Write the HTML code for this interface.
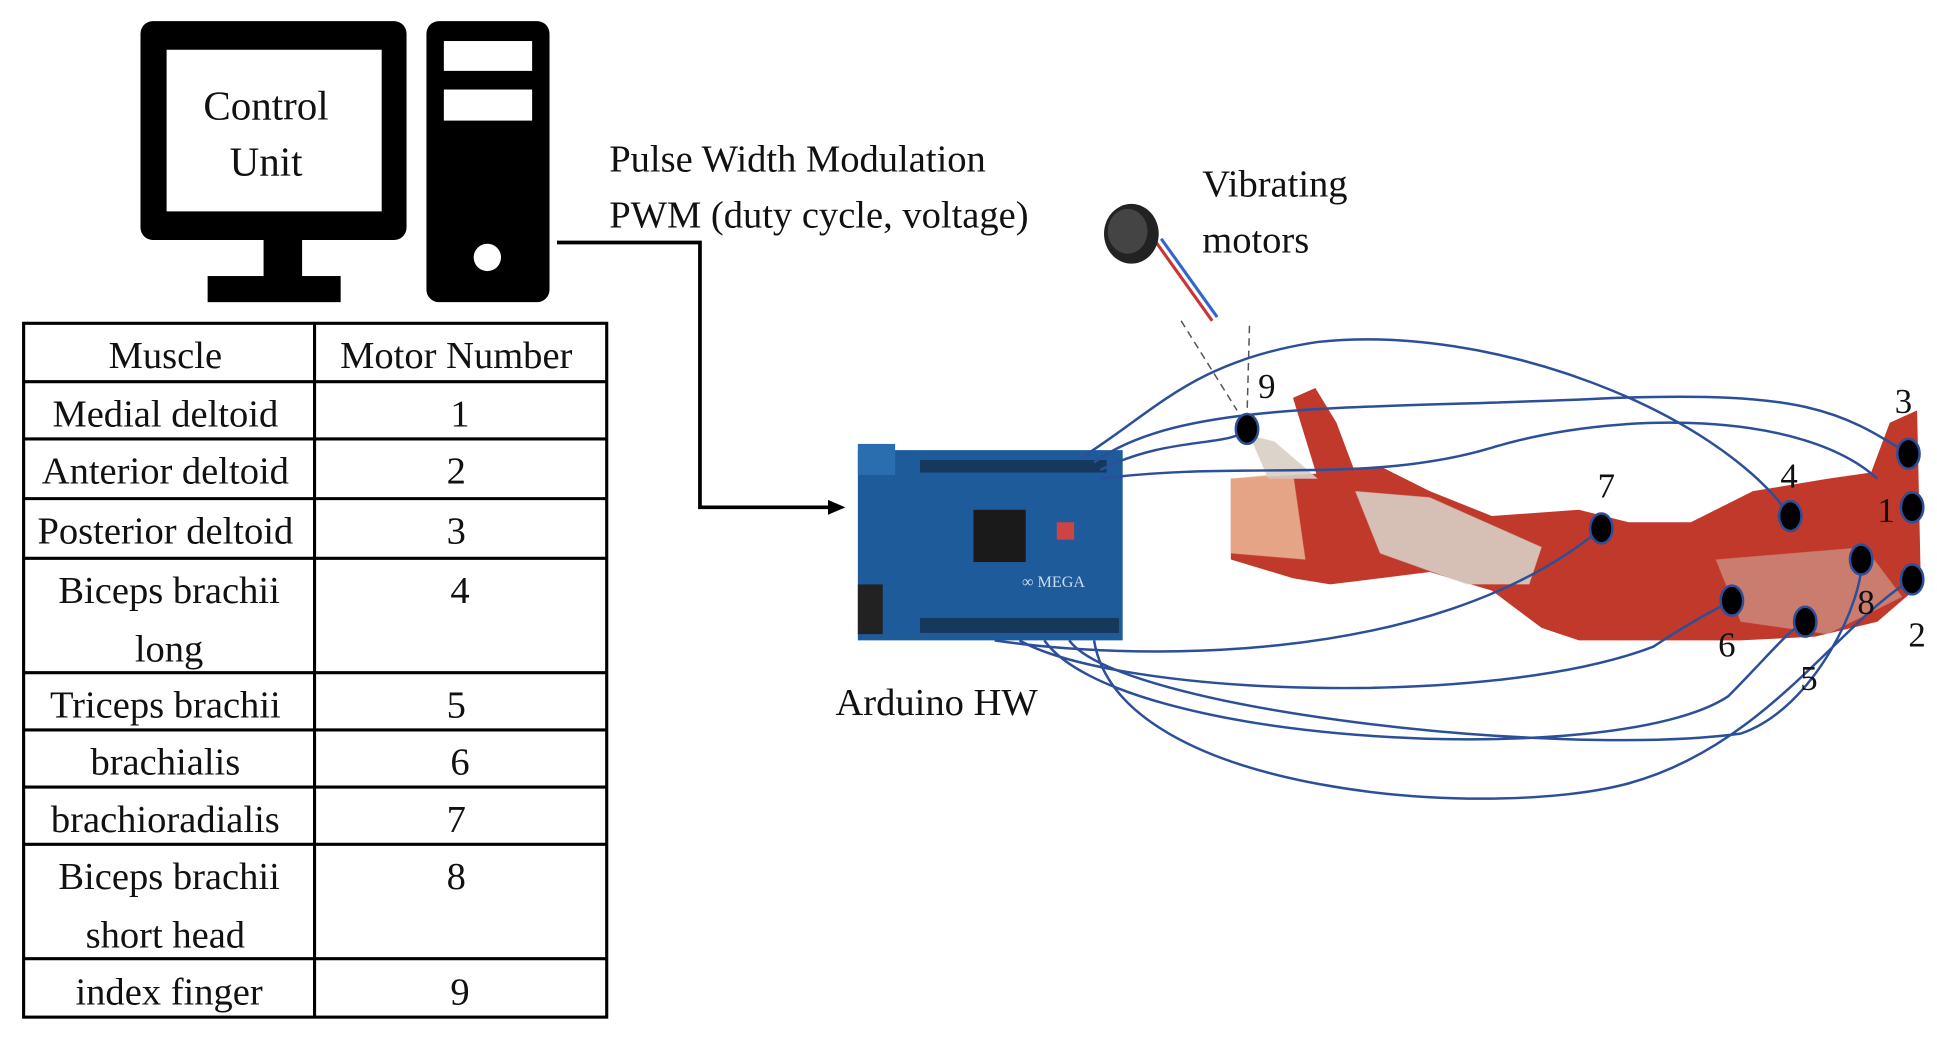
<!DOCTYPE html>
<html><head><meta charset="utf-8"><style>
html,body{margin:0;padding:0;background:#fff;}
svg{display:block;}
text{font-family:"Liberation Serif",serif;fill:#111;}
</style></head><body>
<svg width="1937" height="1042" viewBox="0 0 1558 838" preserveAspectRatio="none" xmlns="http://www.w3.org/2000/svg">
<rect width="1558" height="838" fill="#fff"/>
<!-- monitor -->
<rect x="113" y="17" width="214" height="176" rx="10" fill="#000"/>
<rect x="134" y="40" width="173" height="130" fill="#fff"/>
<rect x="212" y="190" width="31" height="34" fill="#000"/>
<rect x="167" y="222" width="107" height="21" fill="#000"/>
<text x="214" y="96" font-size="33" text-anchor="middle">Control</text>
<text x="214" y="141" font-size="33" text-anchor="middle">Unit</text>
<!-- tower -->
<rect x="343" y="17" width="99" height="226" rx="10" fill="#000"/>
<rect x="357" y="33" width="71" height="24" fill="#fff"/>
<rect x="357" y="72" width="71" height="25" fill="#fff"/>
<circle cx="392" cy="207" r="11" fill="#fff"/>
<!-- connector -->
<polyline points="448,195 563,195 563,408 668,408" fill="none" stroke="#000" stroke-width="3"/>
<polygon points="680,408 666,402 666,414" fill="#000"/>
<text x="490" y="138" font-size="31">Pulse Width Modulation</text>
<text x="490" y="183" font-size="31">PWM (duty cycle, voltage)</text>
<text x="967" y="158" font-size="31">Vibrating</text>
<text x="967" y="203" font-size="31">motors</text>
<!-- motor -->
<path d="M930,195 L975,258" stroke="#c33" stroke-width="2.5"/>
<path d="M934,192 L979,255" stroke="#36c" stroke-width="2.5"/>
<ellipse cx="910" cy="188" rx="22" ry="24" fill="#222"/>
<ellipse cx="907" cy="186" rx="16" ry="18" fill="#444"/>
<line x1="950" y1="258" x2="995" y2="330" stroke="#555" stroke-dasharray="6,4" stroke-width="1.2"/>
<line x1="1005" y1="262" x2="1003" y2="335" stroke="#555" stroke-dasharray="6,4" stroke-width="1.2"/>
<!-- table -->
<g stroke="#000" stroke-width="2.5" fill="none">
<rect x="19" y="260" width="469" height="558"/>
<line x1="253" y1="260" x2="253" y2="818"/>
<line x1="19" y1="307" x2="488" y2="307"/>
<line x1="19" y1="353" x2="488" y2="353"/>
<line x1="19" y1="401" x2="488" y2="401"/>
<line x1="19" y1="449" x2="488" y2="449"/>
<line x1="19" y1="541" x2="488" y2="541"/>
<line x1="19" y1="587" x2="488" y2="587"/>
<line x1="19" y1="633" x2="488" y2="633"/>
<line x1="19" y1="679" x2="488" y2="679"/>
<line x1="19" y1="771" x2="488" y2="771"/>
</g>
<g font-size="31" text-anchor="middle">
<text x="133" y="296">Muscle</text><text x="367" y="296">Motor Number</text>
<text x="133" y="343">Medial deltoid</text><text x="370" y="343">1</text>
<text x="133" y="389">Anterior deltoid</text><text x="367" y="389">2</text>
<text x="133" y="437">Posterior deltoid</text><text x="367" y="437">3</text>
<text x="136" y="485">Biceps brachii</text><text x="370" y="485">4</text>
<text x="136" y="532">long</text>
<text x="133" y="577">Triceps brachii</text><text x="367" y="577">5</text>
<text x="133" y="623">brachialis</text><text x="370" y="623">6</text>
<text x="133" y="669">brachioradialis</text><text x="367" y="669">7</text>
<text x="136" y="715">Biceps brachii</text><text x="367" y="715">8</text>
<text x="133" y="762">short head</text>
<text x="136" y="808">index finger</text><text x="370" y="808">9</text>
</g>
<!-- arduino -->
<rect x="690" y="362" width="213" height="153" fill="#1d5b9a"/>
<rect x="690" y="357" width="30" height="25" fill="#2a6eb0"/>
<rect x="783" y="410" width="42" height="42" fill="#1a1a1a"/>
<rect x="850" y="420" width="14" height="14" fill="#c44"/>
<rect x="740" y="370" width="150" height="10" fill="#123" opacity="0.6"/>
<rect x="740" y="497" width="160" height="12" fill="#123" opacity="0.6"/>
<rect x="690" y="470" width="20" height="40" fill="#222"/>
<text x="822" y="472" font-size="13" fill="#cde" style="fill:#cde">∞ MEGA</text>
<text x="672" y="575" font-size="31">Arduino HW</text>
<!-- arm -->
<g fill="#c0392b">
<path d="M990,385 L1075,380 L1110,375 L1150,395 L1200,415 L1270,410 L1310,420 L1360,420 L1410,395 L1470,385 L1505,380 L1520,340 L1542,330 L1545,470 L1510,500 L1460,512 L1400,515 L1340,515 L1270,515 L1240,505 L1200,475 L1150,460 L1110,465 L1070,470 L1040,465 L990,450 Z"/>
<path d="M1040,320 L1058,312 L1075,340 L1090,380 L1060,385 Z"/>
</g>
<g fill="#d8cfc6" opacity="0.9">
<path d="M990,385 L1040,380 L1050,450 L990,445 Z" fill="#e8b090"/>
<path d="M1005,350 L1025,355 L1060,385 L1020,385 Z"/>
<path d="M1090,395 L1150,400 L1240,440 L1230,470 L1180,470 L1110,445 Z"/>
<path d="M1380,450 L1500,440 L1530,480 L1470,510 L1400,500 Z" opacity="0.5"/>
</g>
<!-- wires -->
<g fill="none" stroke="#2c4f9a" stroke-width="2">
<path d="M870,368 C930,330 960,290 1060,275 C1200,260 1380,330 1440,415"/>
<path d="M880,372 C950,320 1100,330 1300,320 C1450,315 1480,330 1535,365"/>
<path d="M885,378 C940,350 990,360 1003,345"/>
<path d="M885,385 C1000,370 1100,390 1200,360 C1300,330 1450,330 1510,385"/>
<path d="M800,515 C900,530 1150,540 1288,425"/>
<path d="M820,515 C900,560 1200,570 1330,520 C1360,500 1380,490 1393,483"/>
<path d="M840,515 C900,600 1300,620 1390,560 C1420,530 1440,505 1452,500"/>
<path d="M860,515 C900,570 1250,610 1400,590 C1460,570 1500,480 1497,450"/>
<path d="M880,515 C900,640 1200,660 1310,630 C1420,600 1480,500 1538,466"/>
</g>
<!-- dots -->
<g fill="#000" stroke="#2c4f9a" stroke-width="2">
<ellipse cx="1003" cy="345" rx="9" ry="12"/>
<ellipse cx="1288" cy="425" rx="9" ry="12"/>
<ellipse cx="1440" cy="415" rx="9" ry="12"/>
<ellipse cx="1535" cy="365" rx="9" ry="12"/>
<ellipse cx="1538" cy="408" rx="9" ry="12"/>
<ellipse cx="1497" cy="450" rx="9" ry="12"/>
<ellipse cx="1538" cy="466" rx="9" ry="12"/>
<ellipse cx="1393" cy="483" rx="9" ry="12"/>
<ellipse cx="1452" cy="500" rx="9" ry="12"/>
</g>
<g font-size="28">
<text x="1012" y="320">9</text>
<text x="1524" y="332">3</text>
<text x="1432" y="392">4</text>
<text x="1510" y="420">1</text>
<text x="1285" y="400">7</text>
<text x="1494" y="494">8</text>
<text x="1535" y="520">2</text>
<text x="1382" y="528">6</text>
<text x="1448" y="555">5</text>
</g>
</svg>
</body></html>
